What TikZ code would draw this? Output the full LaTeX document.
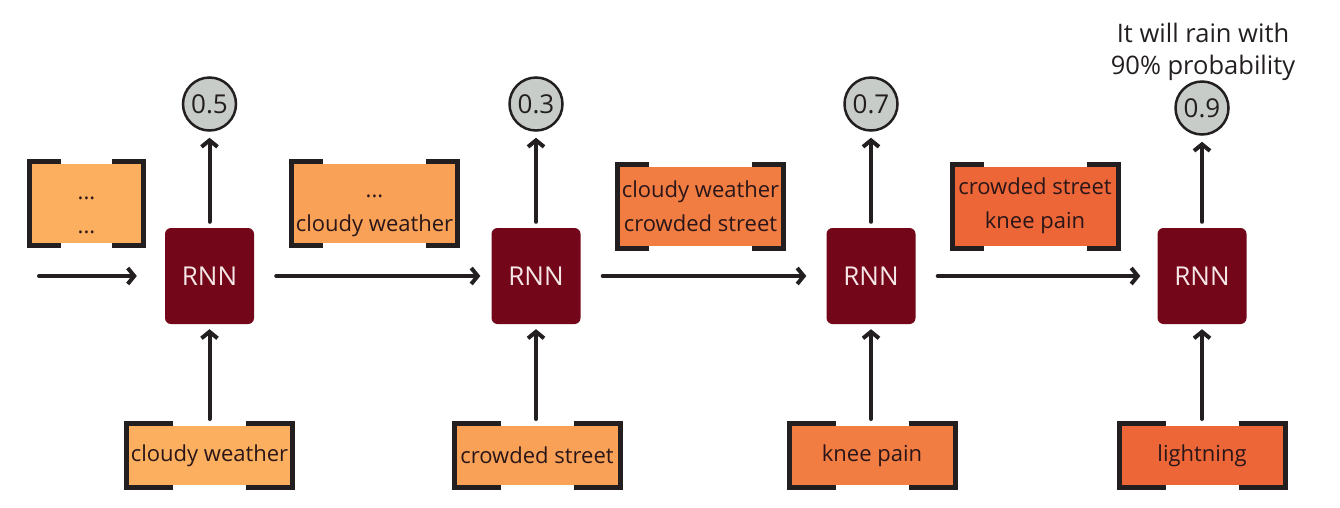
\documentclass[tikz,border=0pt]{standalone}
\usepackage{fontspec}
\setmainfont{Open Sans}
\usetikzlibrary{arrows.meta,calc}
\definecolor{ink}{HTML}{231F20}
\definecolor{rnncol}{HTML}{730618}
\definecolor{cA}{HTML}{FCAF5E}
\definecolor{cB}{HTML}{F9A257}
\definecolor{cC}{HTML}{F17D43}
\definecolor{cD}{HTML}{EC6638}
\definecolor{circfill}{HTML}{C8CCC8}
\definecolor{txt}{HTML}{2A1618}
\definecolor{rnntxt}{HTML}{F6E6E6}
\newcommand\brkbox[2]{%
  \draw[brk] ([shift={(#2-5pt,2.5pt)}]#1.north west) -- ([shift={(-2.5pt,2.5pt)}]#1.north west)
     -- ([shift={(-2.5pt,-2.5pt)}]#1.south west) -- ([shift={(#2-5pt,-2.5pt)}]#1.south west);
  \draw[brk] ([shift={(-#2+5pt,2.5pt)}]#1.north east) -- ([shift={(2.5pt,2.5pt)}]#1.north east)
     -- ([shift={(2.5pt,-2.5pt)}]#1.south east) -- ([shift={(-#2+5pt,-2.5pt)}]#1.south east);
}
\newcommand\dotline[1]{\rule{0pt}{#1}...}
\begin{document}
\begin{tikzpicture}[x=1pt,y=-1pt,
  rnn/.style={rectangle, rounded corners=6pt, fill=rnncol, minimum width=89pt, minimum height=96pt,
    inner sep=0pt, text=rnntxt, font=\fontsize{26}{30}\selectfont},
  prob/.style={circle, draw=ink, line width=2.5pt, fill=circfill, minimum size=53pt, inner sep=0pt,
    font=\fontsize{26}{30}\selectfont, text=ink},
  membox/.style={rectangle, inner sep=0pt, outer sep=0pt, minimum width=#1, minimum height=79pt,
    align=center, font=\fontsize{22}{34}\selectfont, text=txt},
  inbox/.style={rectangle, inner sep=0pt, outer sep=0pt, minimum width=161pt, minimum height=59pt,
    font=\fontsize{22}{34}\selectfont, text=txt},
  flow/.style={draw=ink, line width=4pt, line cap=round, -{Straight Barb[length=6.5pt,width=16pt]}},
  brk/.style={draw=ink, line width=5pt, line join=miter, line cap=butt}
]
\useasboundingbox (0,0) rectangle (1340,507);

% RNN cells
\node[rnn] (r1) at (209.5,276) {RNN};
\node[rnn] (r2) at (536,276) {RNN};
\node[rnn] (r3) at (871,276) {RNN};
\node[rnn] (r4) at (1202,276) {RNN};

% outputs
\node[prob] (p1) at (209.5,104) {0.5};
\node[prob] (p2) at (536,104) {0.3};
\node[prob] (p3) at (871,104) {0.7};
\node[prob] (p4) at (1202,108) {0.9};
\node[align=center, text=ink, font=\fontsize{25.5}{32}\selectfont] (note) at (1203,52)
  {It will rain with\\90\% probability};

% memory boxes
\node[membox=109pt, fill=cA] (m1) at (86.5,203.5) {\dotline{27pt}\\\dotline{16pt}};
\node[membox=161pt, fill=cB] (m2) at (374.5,203.5) {\dotline{28pt}\\cloudy weather};
\node[membox=161pt, fill=cC] (m3) at (700.5,206) {cloudy weather\\crowded street};
\node[membox=161pt, fill=cD] (m4) at (1035,206) {crowded street\\knee pain};
\brkbox{m1}{34pt}
\brkbox{m2}{34pt}
\brkbox{m3}{34pt}
\brkbox{m4}{34pt}

% input boxes
\node[inbox, fill=cA] (b1) at (209.5,455.5) {cloudy weather};
\node[inbox, fill=cB] (b2) at (537,455.5) {crowded street};
\node[inbox, fill=cC] (b3) at (872,455.5) {knee pain};
\node[inbox, fill=cD] (b4) at (1202,455.5) {lightning};
\brkbox{b1}{49pt}
\brkbox{b2}{49pt}
\brkbox{b3}{49pt}
\brkbox{b4}{49pt}

% connectors
\coordinate (start) at (39,276);
\draw[flow, shorten >=28pt] (start) -- (r1.west);
\draw[flow, shorten <=22pt, shorten >=11pt] (r1.east) -- (r2.west);
\draw[flow, shorten <=22pt, shorten >=20pt] (r2.east) -- (r3.west);
\draw[flow, shorten <=22pt, shorten >=17pt] (r3.east) -- (r4.west);

\foreach \i in {1,2,3,4}{
  \draw[flow, shorten <=6pt, shorten >=6pt] (r\i.north) -- (p\i.south);
  \draw[flow, shorten <=7pt, shorten >=5pt] (b\i.north -| r\i.south) -- (r\i.south);
}
\end{tikzpicture}
\end{document}
